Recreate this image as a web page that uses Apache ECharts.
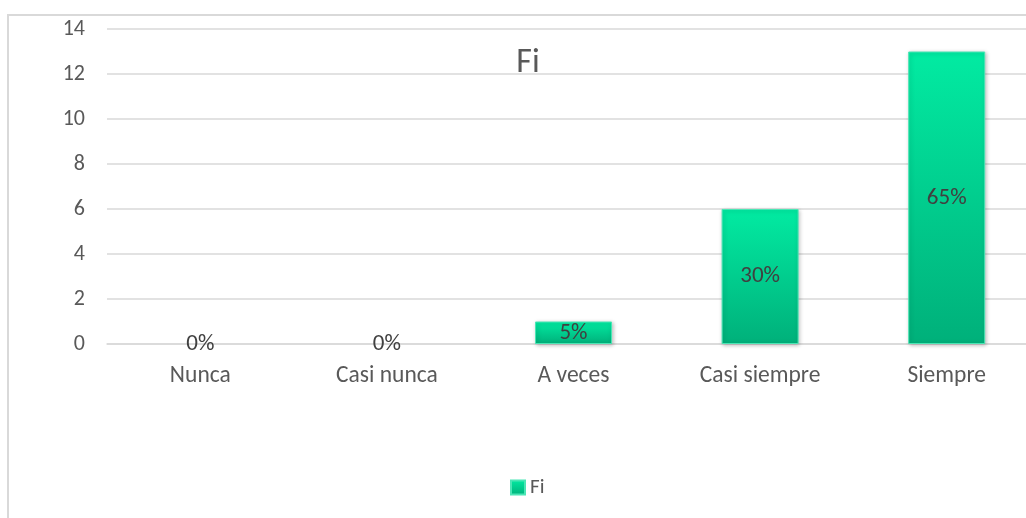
<!DOCTYPE html>
<html><head><meta charset="utf-8">
<script src="https://cdn.jsdelivr.net/npm/echarts@6/dist/echarts.min.js"></script>
<style>html,body{margin:0;padding:0;background:#fff}#c{width:1026px;height:518px;position:relative}
#b{position:absolute;left:7px;top:14px;width:1040px;height:530px;border:2px solid #d9d9d9;box-sizing:border-box;pointer-events:none}</style>
</head><body><div id="c"></div><div id="b"></div>
<script>
const categories = ['Nunca','Casi nunca','A veces','Casi siempre','Siempre'];
const fiValues = [0,0,1,6,13];
const percentLabels = ['0%','0%','5%','30%','65%'];
const yTicks = [0,2,4,6,8,10,12,14];
const chart = echarts.init(document.getElementById('c'));
const font = 'Calibri, Carlito, Lato, sans-serif';
const barData = fiValues.map(v => v === 0 ? {value:v,itemStyle:{borderWidth:0,shadowBlur:0,shadowOffsetX:0,shadowOffsetY:0,opacity:0}} : v);
chart.setOption({
  animation:false,
  title:{text:'Fi',left:523,top:41,textAlign:'center',textStyle:{fontFamily:font,fontSize:34,fontWeight:'normal',color:'#595959'}},
  legend:{bottom:15,left:505,itemWidth:14,itemHeight:14,itemGap:8,icon:'rect',textStyle:{fontFamily:font,fontSize:21,color:'#595959'},data:['Fi']},
  grid:{left:107,top:29,width:933,height:315,containLabel:false,outerBoundsMode:'none'},
  xAxis:{type:'category',data:categories,axisLine:{show:true,lineStyle:{color:'#d9d9d9',width:1.5}},axisTick:{show:false},
    axisLabel:{fontFamily:font,fontSize:23.5,color:'#595959',margin:20}},
  yAxis:{type:'value',min:0,max:14,interval:2,axisLine:{show:false},axisTick:{show:false},
    splitLine:{lineStyle:{color:'#d9d9d9',width:1.5}},
    axisLabel:{fontFamily:font,fontSize:22,color:'#595959',margin:22,formatter:v=>yTicks.includes(v)?String(v):''}},
  series:[{name:'Fi',type:'bar',data:barData,barWidth:77,
    itemStyle:{color:new echarts.graphic.LinearGradient(0,0,0,1,[{offset:0,color:'#02eba2'},{offset:1,color:'#00b07a'}]),
      borderColor:'#4be6b5',borderWidth:1,shadowColor:'rgba(0,0,0,0.25)',shadowBlur:4,shadowOffsetX:1,shadowOffsetY:1},
    label:{show:true,position:'inside',fontFamily:font,fontSize:23,color:'#404040',opacity:1,formatter:p=>percentLabels[p.dataIndex]}}]
});
</script></body></html>
